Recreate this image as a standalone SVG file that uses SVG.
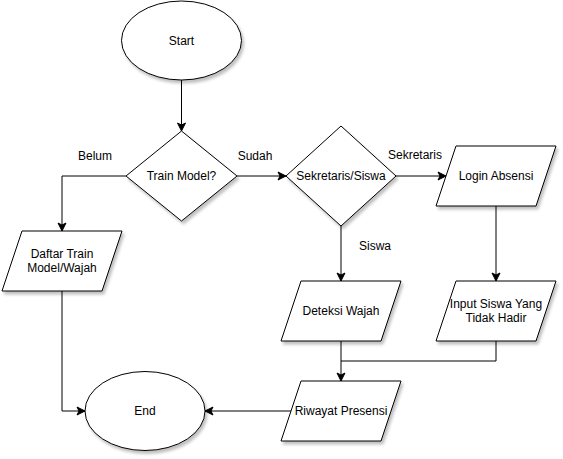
<svg xmlns="http://www.w3.org/2000/svg" width="563" height="459" viewBox="0 0 563 459">
<style>
.n{fill:#fff;stroke:#000;stroke-width:1;filter:url(#sh)}
.t{font-family:"Liberation Sans",Arial,sans-serif;font-size:12px;fill:#000;text-anchor:middle}
.c{fill:none;stroke:#000;stroke-width:1;marker-end:url(#ar)}
.l{fill:none;stroke:#000;stroke-width:1}
</style>
<defs>
<filter id="sh" x="-20%" y="-20%" width="150%" height="150%">
<feDropShadow dx="2" dy="3" stdDeviation="1.5" flood-color="#000" flood-opacity="0.25"/>
</filter>
<marker id="ar" markerUnits="userSpaceOnUse" markerWidth="10" markerHeight="10" viewBox="0 0 10 10" refX="9" refY="5" orient="auto">
<path d="M1,1 L9,5 L1,9 L3,5 Z" fill="#000" stroke="#000" stroke-width="1"/>
</marker>
</defs>
<rect width="563" height="459" fill="#fff"/>
<g id="connectors">
<path class="c" d="M181.5,80 V131"/>
<path class="c" d="M126,176 H62 V231"/>
<path class="c" d="M237,176 H286"/>
<path class="c" d="M396,176 H446"/>
<path class="c" d="M341,226 V281"/>
<path class="c" d="M496,206 V281"/>
<path class="c" d="M341,341 V381"/>
<path class="l" d="M496,341 V361 H341"/>
<path class="c" d="M291,411 H205"/>
<path class="c" d="M62,291 V411 H85"/>
</g>
<g id="labels">
<text class="t" x="95" y="160">Belum</text>
<text class="t" x="255" y="160">Sudah</text>
<text class="t" x="415" y="159">Sekretaris</text>
<text class="t" x="375" y="250">Siswa</text>
</g>
<g id="start">
<ellipse class="n" cx="181.5" cy="40.5" rx="60" ry="39.5"/>
<text class="t" x="181.5" y="45">Start</text>
</g>
<g id="train-model">
<polygon class="n" points="181.5,131 237,176 181.5,221 126,176"/>
<text class="t" x="181.5" y="180">Train Model?</text>
</g>
<g id="sekretaris-siswa">
<polygon class="n" points="341,126 396,176 341,226 286,176"/>
<text class="t" x="341" y="180">Sekretaris/Siswa</text>
</g>
<g id="login-absensi">
<polygon class="n" points="456,146 556,146 536,206 436,206"/>
<text class="t" x="496" y="180">Login Absensi</text>
</g>
<g id="daftar">
<polygon class="n" points="22,231 122,231 102,291 2,291"/>
<text class="t" x="62" y="258">Daftar Train</text>
<text class="t" x="62" y="272">Model/Wajah</text>
</g>
<g id="deteksi-wajah">
<polygon class="n" points="301,281 401,281 381,341 281,341"/>
<text class="t" x="341" y="315">Deteksi Wajah</text>
</g>
<g id="input-siswa">
<polygon class="n" points="456,281 556,281 536,341 436,341"/>
<text class="t" x="496" y="308">Input Siswa Yang</text>
<text class="t" x="496" y="322">Tidak Hadir</text>
</g>
<g id="riwayat-presensi">
<polygon class="n" points="301,381 401,381 381,441 281,441"/>
<text class="t" x="341" y="415">Riwayat Presensi</text>
</g>
<g id="end">
<ellipse class="n" cx="145" cy="411" rx="60" ry="39.5"/>
<text class="t" x="145" y="415">End</text>
</g>
</svg>
